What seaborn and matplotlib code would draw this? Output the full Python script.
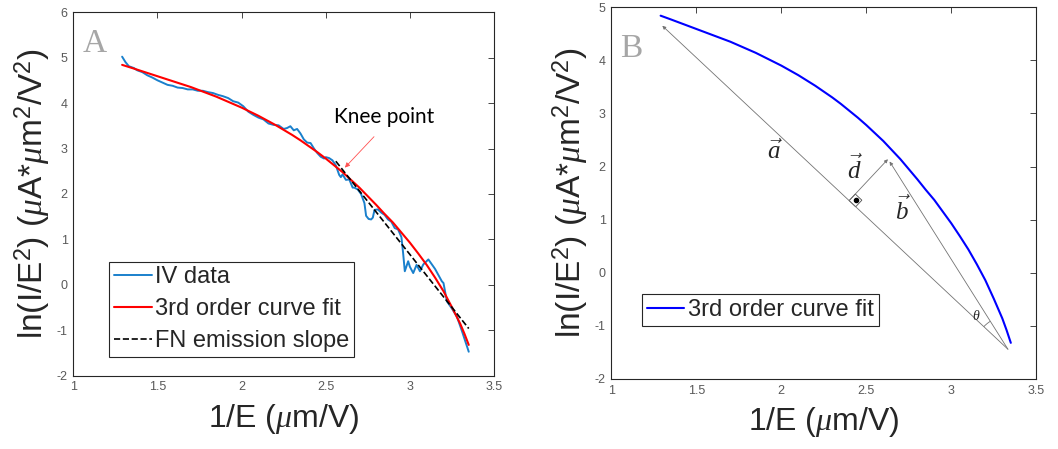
import numpy as np
import pandas as pd
import matplotlib
matplotlib.use("Agg")
import matplotlib.pyplot as plt
from matplotlib.patches import Arc, Polygon
import seaborn as sns

# 3rd order curve fit
fit_x = [1.29, 1.35, 1.4, 1.45, 1.5, 1.55, 1.6, 1.65, 1.7, 1.75, 1.8, 1.85, 1.9, 1.95,
         2.0, 2.05, 2.1, 2.15, 2.2, 2.25, 2.3, 2.35, 2.4, 2.45, 2.5, 2.55, 2.6, 2.65,
         2.7, 2.75, 2.8, 2.85, 2.9, 2.95, 3.0, 3.05, 3.1, 3.15, 3.2, 3.25, 3.3, 3.325,
         3.35]
fit_y = [4.84, 4.77, 4.71, 4.65, 4.59, 4.53, 4.47, 4.41, 4.35, 4.28, 4.21, 4.14, 4.06, 3.98,
         3.90, 3.81, 3.72, 3.62, 3.52, 3.41, 3.30, 3.18, 3.05, 2.92, 2.78, 2.63, 2.48, 2.31,
         2.14, 1.95, 1.76, 1.56, 1.37, 1.15, 0.93, 0.69, 0.44, 0.16, -0.14, -0.49, -0.86, -1.08,
         -1.32]

# measured IV data
iv_x = [1.29, 1.31, 1.33, 1.36, 1.38, 1.41, 1.44, 1.47, 1.50, 1.53, 1.56, 1.59, 1.62,
        1.65, 1.68, 1.71, 1.74, 1.77, 1.80, 1.83, 1.86, 1.89, 1.92, 1.95, 1.98, 2.01,
        2.04, 2.07, 2.10, 2.13, 2.16, 2.19, 2.22, 2.25, 2.27, 2.29, 2.31, 2.33, 2.35,
        2.37, 2.39, 2.41, 2.43, 2.45, 2.47, 2.49, 2.50, 2.52, 2.54, 2.56, 2.58, 2.59,
        2.60, 2.62, 2.64, 2.66, 2.67, 2.69, 2.71, 2.73, 2.74, 2.755, 2.77, 2.78, 2.79,
        2.81, 2.83, 2.85, 2.87, 2.89, 2.91, 2.93, 2.95, 2.96, 2.97, 2.99, 3.00, 3.02,
        3.04, 3.06, 3.08, 3.11, 3.15, 3.19, 3.20, 3.22, 3.25, 3.28, 3.31, 3.35]
iv_y = [5.02, 4.90, 4.81, 4.77, 4.72, 4.68, 4.61, 4.56, 4.50, 4.45, 4.40, 4.38, 4.34,
        4.33, 4.30, 4.30, 4.27, 4.27, 4.24, 4.22, 4.18, 4.15, 4.11, 4.04, 4.01, 3.93,
        3.81, 3.74, 3.68, 3.64, 3.55, 3.52, 3.51, 3.43, 3.45, 3.49, 3.40, 3.43, 3.33,
        3.20, 3.13, 3.12, 3.00, 2.90, 2.82, 2.78, 2.81, 2.79, 2.74, 2.63, 2.42, 2.37,
        2.43, 2.31, 2.32, 2.14, 2.14, 2.10, 2.00, 1.80, 1.52, 1.45, 1.44, 1.48, 1.65,
        1.66, 1.59, 1.54, 1.44, 1.39, 1.25, 1.22, 1.05, 0.70, 0.30, 0.52, 0.40, 0.26,
        0.44, 0.30, 0.45, 0.56, 0.35, 0.08, 0.04, -0.36, -0.52, -0.70, -1.02, -1.47]

# FN emission slope (straight line)
fn_x = [2.56, 3.35]
fn_y = [2.72, -0.96]

x_ticks = [1, 1.5, 2, 2.5, 3, 3.5]
x_ticklabels = ["1", "1.5", "2", "2.5", "3", "3.5"]
ya_ticks = [-2, -1, 0, 1, 2, 3, 4, 5, 6]
yb_ticks = [-2, -1, 0, 1, 2, 3, 4, 5]

# vectors in panel B
base_pt = (3.333, -1.44)
a_tip = (1.30, 4.65)
b_tip = (2.637, 2.094)
d_foot = (2.399, 1.358)
d_tip = (2.627, 2.137)

sns.set_theme(style="white")
plt.rcParams["font.family"] = ["Liberation Sans", "DejaVu Sans"]
plt.rcParams["mathtext.fontset"] = "custom"
plt.rcParams["mathtext.rm"] = "Liberation Sans"
plt.rcParams["mathtext.it"] = "Liberation Serif:italic"
plt.rcParams["mathtext.bf"] = "Liberation Sans:bold"

fig = plt.figure(figsize=(10.58, 4.49), dpi=100)
ax_a = fig.add_axes([0.0693, 0.163, 0.3976, 0.810])
ax_b = fig.add_axes([0.5778, 0.156, 0.4017, 0.828])

ylab = r"ln(I/E$^2$) ($\mu$A*$\mu$m$^2$/V$^2$)"
xlab = r"1/E ($\mu$m/V)"


def style_axes(ax, yticks, ylim):
    ax.set_xlim(1, 3.5)
    ax.set_ylim(*ylim)
    ax.set_xticks(x_ticks)
    ax.set_xticklabels(x_ticklabels)
    ax.set_yticks(yticks)
    ax.set_yticklabels([str(t) for t in yticks])
    ax.tick_params(direction="in", top=True, right=True, length=4, width=0.6,
                   color="0.15", labelcolor="0.35", labelsize=9, pad=4)
    for sp in ax.spines.values():
        sp.set_color("0.15")
        sp.set_linewidth(0.8)
    ax.set_xlabel(xlab, fontsize=23, labelpad=6)
    ax.set_ylabel(ylab, fontsize=24, labelpad=3)


legend_kw = dict(loc="lower left", borderaxespad=0, fontsize=17, frameon=True,
                 fancybox=False, edgecolor="0.15", framealpha=1, borderpad=0.2,
                 handlelength=1.6, handletextpad=0.15, labelspacing=0.42)

# Panel A
sns.lineplot(x=iv_x, y=iv_y, ax=ax_a, color="#1a80cc", linewidth=1.4, sort=False,
             estimator=None, label="IV data")
sns.lineplot(x=fit_x, y=fit_y, ax=ax_a, color="red", linewidth=1.5, sort=False,
             estimator=None, label="3rd order curve fit")
sns.lineplot(x=fn_x, y=fn_y, ax=ax_a, color="black", linewidth=1.2, sort=False,
             estimator=None, label="FN emission slope", linestyle="--")
style_axes(ax_a, ya_ticks, (-2, 6))
leg = ax_a.legend(bbox_to_anchor=(0.085, 0.052), **legend_kw)
leg.get_frame().set_linewidth(0.8)
ax_a.text(0.021, 0.891, "A", transform=ax_a.transAxes, fontsize=24,
          family="Liberation Serif", color="#a6a6a6", va="baseline")
ax_a.annotate("", xy=(2.614, 2.58), xytext=(2.787, 3.26),
              arrowprops=dict(arrowstyle="-|>", color="#ff5050", lw=0.6,
                              mutation_scale=7, shrinkA=0, shrinkB=0))
ax_a.text(2.846, 3.56, "Knee point", fontsize=15, family="Lato", ha="center",
          va="baseline", color="black")

# Panel B
sns.lineplot(x=fit_x, y=fit_y, ax=ax_b, color="#0000FF", linewidth=1.5, sort=False,
             estimator=None, label="3rd order curve fit")
style_axes(ax_b, yb_ticks, (-2, 5))
leg = ax_b.legend(bbox_to_anchor=(0.072, 0.143), **legend_kw)
leg.get_frame().set_linewidth(0.8)
ax_b.text(0.020, 0.866, "B", transform=ax_b.transAxes, fontsize=24,
          family="Liberation Serif", color="#a6a6a6", va="baseline")

arrow_kw = dict(arrowstyle="-|>", color="0.45", lw=0.6, mutation_scale=5,
                shrinkA=0, shrinkB=0)
for start, tip in [(base_pt, a_tip), (base_pt, b_tip), (d_foot, d_tip)]:
    ax_b.annotate("", xy=tip, xytext=start, arrowprops=arrow_kw)

# right-angle marker at the foot of d (built in pixel space)
fig.canvas.draw()
T = ax_b.transData
p_foot = T.transform(d_foot)
u_a = T.transform(base_pt) - T.transform(a_tip)
u_a = u_a / np.hypot(*u_a)
u_d = T.transform(d_tip) - p_foot
u_d = u_d / np.hypot(*u_d)
side = 9
corners = [p_foot, p_foot + side * u_a, p_foot + side * (u_a + u_d), p_foot + side * u_d]
corners = T.inverted().transform(np.array(corners))
ax_b.add_patch(Polygon(corners, closed=True, fill=False, edgecolor="0.3", lw=0.6))
ctr = corners.mean(axis=0)
ax_b.plot([ctr[0]], [ctr[1]], marker="o", color="black", markersize=3)

# theta arc at the base (angles given in data space, Arc stretches them)
ang_a = np.degrees(np.arctan2(a_tip[1] - base_pt[1], a_tip[0] - base_pt[0]))
ang_b = np.degrees(np.arctan2(b_tip[1] - base_pt[1], b_tip[0] - base_pt[0]))
corner = T.inverted().transform(T.transform(base_pt) + 33)
rx, ry = corner[0] - base_pt[0], corner[1] - base_pt[1]
ax_b.add_patch(Arc(base_pt, 2 * rx, 2 * ry, theta1=min(ang_a, ang_b),
                   theta2=max(ang_a, ang_b), color="0.45", lw=0.6))
ax_b.text(3.147, -0.81, r"$\theta$", fontsize=10, ha="center", va="center")
ax_b.text(1.961, 2.28, r"$\vec{a}$", fontsize=18, ha="center", va="center")
ax_b.text(2.431, 1.94, r"$\vec{d}$", fontsize=18, ha="center", va="center")
ax_b.text(2.716, 1.18, r"$\vec{b}$", fontsize=18, ha="center", va="center")

fig.savefig("out.png", dpi=100)
